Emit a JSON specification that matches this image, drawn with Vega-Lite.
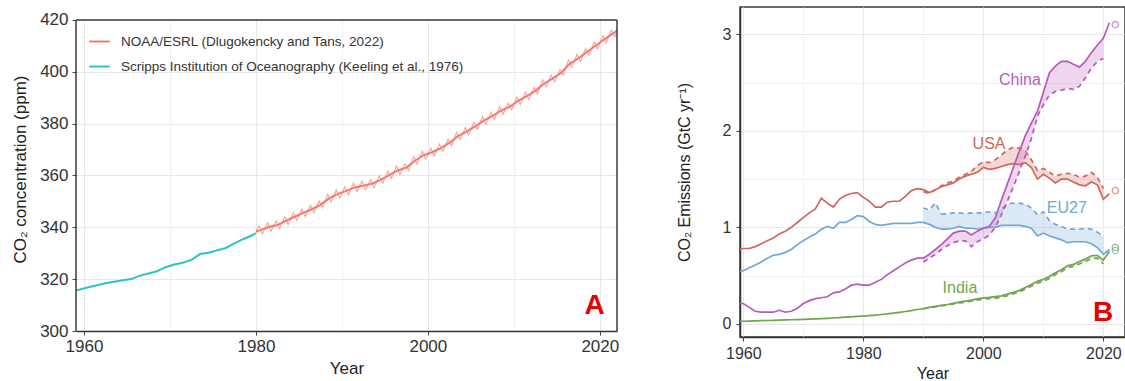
{
"$schema": "https://vega.github.io/schema/vega-lite/v6.json",
"padding": {"left": 11, "top": 6, "right": 0, "bottom": 0},
"spacing": 56,
"resolve": {"scale": {"color": "independent"}},
"config": {
  "font": "Liberation Sans",
  "view": {"stroke": "#3a3a3a", "strokeWidth": 1.5},
  "axis": {"domainColor": "#333", "domainWidth": 1.5, "gridWidth": 1, "tickColor": "#444", "tickSize": 4, "labelColor": "#333", "titleColor": "#222", "titleFontWeight": "normal", "labelFontSize": 17, "titleFontSize": 17}
},
"datasets": {
  "seasonal": [
    {"t":1980.0,"v":338.6},{"t":1980.35,"v":340.5},{"t":1980.75,"v":337.4},{"t":1981.35,"v":341.8},{"t":1981.75,"v":338.5},{"t":1982.35,"v":342.4},{"t":1982.75,"v":339.5},{"t":1983.35,"v":344.1},{"t":1983.75,"v":341.1},{"t":1984.35,"v":345.6},{"t":1984.75,"v":342.6},{"t":1985.35,"v":347.1},{"t":1985.75,"v":344.1},{"t":1986.35,"v":348.5},{"t":1986.75,"v":345.6},{"t":1987.35,"v":350.1},{"t":1987.75,"v":347.5},{"t":1988.35,"v":352.7},{"t":1988.75,"v":349.8},{"t":1989.35,"v":354.4},{"t":1989.75,"v":351.3},{"t":1990.35,"v":355.7},{"t":1990.75,"v":352.6},{"t":1991.35,"v":357.1},{"t":1991.75,"v":353.8},{"t":1992.35,"v":357.8},{"t":1992.75,"v":354.5},{"t":1993.35,"v":358.4},{"t":1993.75,"v":355.4},{"t":1994.35,"v":359.9},{"t":1994.75,"v":357.0},{"t":1995.35,"v":361.7},{"t":1995.75,"v":358.8},{"t":1996.35,"v":363.6},{"t":1996.75,"v":360.4},{"t":1997.35,"v":364.5},{"t":1997.75,"v":361.9},{"t":1998.35,"v":367.2},{"t":1998.75,"v":364.4},{"t":1999.35,"v":369.4},{"t":1999.75,"v":366.3},{"t":2000.35,"v":370.5},{"t":2000.75,"v":367.6},{"t":2001.35,"v":372.1},{"t":2001.75,"v":369.3},{"t":2002.35,"v":374.0},{"t":2002.75,"v":371.4},{"t":2003.35,"v":376.7},{"t":2003.75,"v":373.8},{"t":2004.35,"v":378.4},{"t":2004.75,"v":375.7},{"t":2005.35,"v":380.5},{"t":2005.75,"v":377.7},{"t":2006.35,"v":382.7},{"t":2006.75,"v":379.8},{"t":2007.35,"v":384.4},{"t":2007.75,"v":381.6},{"t":2008.35,"v":386.6},{"t":2008.75,"v":383.6},{"t":2009.35,"v":387.9},{"t":2009.75,"v":385.3},{"t":2010.35,"v":390.3},{"t":2010.75,"v":387.4},{"t":2011.35,"v":392.1},{"t":2011.75,"v":389.3},{"t":2012.35,"v":394.0},{"t":2012.75,"v":391.5},{"t":2013.35,"v":396.9},{"t":2013.75,"v":394.1},{"t":2014.35,"v":398.8},{"t":2014.75,"v":396.1},{"t":2015.35,"v":400.9},{"t":2015.75,"v":398.7},{"t":2016.35,"v":404.5},{"t":2016.75,"v":401.8},{"t":2017.35,"v":406.7},{"t":2017.75,"v":404.0},{"t":2018.35,"v":409.0},{"t":2018.75,"v":406.4},{"t":2019.35,"v":411.5},{"t":2019.75,"v":408.9},{"t":2020.35,"v":413.9},{"t":2020.75,"v":411.2},{"t":2021.35,"v":416.1},{"t":2021.75,"v":413.5},{"t":2022.1,"v":417.0}
  ],
  "co2": [
    {"src":"Scripps Institution of Oceanography (Keeling et al., 1976)","t":1959.0,"v":315.6},
    {"src":"Scripps Institution of Oceanography (Keeling et al., 1976)","t":1959.5,"v":315.98},
    {"src":"Scripps Institution of Oceanography (Keeling et al., 1976)","t":1960.5,"v":316.91},
    {"src":"Scripps Institution of Oceanography (Keeling et al., 1976)","t":1961.5,"v":317.64},
    {"src":"Scripps Institution of Oceanography (Keeling et al., 1976)","t":1962.5,"v":318.45},
    {"src":"Scripps Institution of Oceanography (Keeling et al., 1976)","t":1963.5,"v":318.99},
    {"src":"Scripps Institution of Oceanography (Keeling et al., 1976)","t":1964.5,"v":319.62},
    {"src":"Scripps Institution of Oceanography (Keeling et al., 1976)","t":1965.5,"v":320.04},
    {"src":"Scripps Institution of Oceanography (Keeling et al., 1976)","t":1966.5,"v":321.37},
    {"src":"Scripps Institution of Oceanography (Keeling et al., 1976)","t":1967.5,"v":322.18},
    {"src":"Scripps Institution of Oceanography (Keeling et al., 1976)","t":1968.5,"v":323.05},
    {"src":"Scripps Institution of Oceanography (Keeling et al., 1976)","t":1969.5,"v":324.62},
    {"src":"Scripps Institution of Oceanography (Keeling et al., 1976)","t":1970.5,"v":325.68},
    {"src":"Scripps Institution of Oceanography (Keeling et al., 1976)","t":1971.5,"v":326.32},
    {"src":"Scripps Institution of Oceanography (Keeling et al., 1976)","t":1972.5,"v":327.46},
    {"src":"Scripps Institution of Oceanography (Keeling et al., 1976)","t":1973.5,"v":329.68},
    {"src":"Scripps Institution of Oceanography (Keeling et al., 1976)","t":1974.5,"v":330.19},
    {"src":"Scripps Institution of Oceanography (Keeling et al., 1976)","t":1975.5,"v":331.13},
    {"src":"Scripps Institution of Oceanography (Keeling et al., 1976)","t":1976.5,"v":332.03},
    {"src":"Scripps Institution of Oceanography (Keeling et al., 1976)","t":1977.5,"v":333.84},
    {"src":"Scripps Institution of Oceanography (Keeling et al., 1976)","t":1978.5,"v":335.41},
    {"src":"Scripps Institution of Oceanography (Keeling et al., 1976)","t":1979.5,"v":336.84},
    {"src":"Scripps Institution of Oceanography (Keeling et al., 1976)","t":1980.0,"v":337.8},
    {"src":"NOAA/ESRL (Dlugokencky and Tans, 2022)","t":1980.0,"v":338.3},
    {"src":"NOAA/ESRL (Dlugokencky and Tans, 2022)","t":1980.5,"v":338.91},
    {"src":"NOAA/ESRL (Dlugokencky and Tans, 2022)","t":1981.5,"v":340.11},
    {"src":"NOAA/ESRL (Dlugokencky and Tans, 2022)","t":1982.5,"v":340.86},
    {"src":"NOAA/ESRL (Dlugokencky and Tans, 2022)","t":1983.5,"v":342.53},
    {"src":"NOAA/ESRL (Dlugokencky and Tans, 2022)","t":1984.5,"v":344.07},
    {"src":"NOAA/ESRL (Dlugokencky and Tans, 2022)","t":1985.5,"v":345.54},
    {"src":"NOAA/ESRL (Dlugokencky and Tans, 2022)","t":1986.5,"v":346.97},
    {"src":"NOAA/ESRL (Dlugokencky and Tans, 2022)","t":1987.5,"v":348.68},
    {"src":"NOAA/ESRL (Dlugokencky and Tans, 2022)","t":1988.5,"v":351.16},
    {"src":"NOAA/ESRL (Dlugokencky and Tans, 2022)","t":1989.5,"v":352.79},
    {"src":"NOAA/ESRL (Dlugokencky and Tans, 2022)","t":1990.5,"v":354.06},
    {"src":"NOAA/ESRL (Dlugokencky and Tans, 2022)","t":1991.5,"v":355.39},
    {"src":"NOAA/ESRL (Dlugokencky and Tans, 2022)","t":1992.5,"v":356.09},
    {"src":"NOAA/ESRL (Dlugokencky and Tans, 2022)","t":1993.5,"v":356.83},
    {"src":"NOAA/ESRL (Dlugokencky and Tans, 2022)","t":1994.5,"v":358.33},
    {"src":"NOAA/ESRL (Dlugokencky and Tans, 2022)","t":1995.5,"v":360.17},
    {"src":"NOAA/ESRL (Dlugokencky and Tans, 2022)","t":1996.5,"v":361.93},
    {"src":"NOAA/ESRL (Dlugokencky and Tans, 2022)","t":1997.5,"v":363.05},
    {"src":"NOAA/ESRL (Dlugokencky and Tans, 2022)","t":1998.5,"v":365.70},
    {"src":"NOAA/ESRL (Dlugokencky and Tans, 2022)","t":1999.5,"v":367.80},
    {"src":"NOAA/ESRL (Dlugokencky and Tans, 2022)","t":2000.5,"v":368.96},
    {"src":"NOAA/ESRL (Dlugokencky and Tans, 2022)","t":2001.5,"v":370.57},
    {"src":"NOAA/ESRL (Dlugokencky and Tans, 2022)","t":2002.5,"v":372.59},
    {"src":"NOAA/ESRL (Dlugokencky and Tans, 2022)","t":2003.5,"v":375.15},
    {"src":"NOAA/ESRL (Dlugokencky and Tans, 2022)","t":2004.5,"v":376.95},
    {"src":"NOAA/ESRL (Dlugokencky and Tans, 2022)","t":2005.5,"v":378.98},
    {"src":"NOAA/ESRL (Dlugokencky and Tans, 2022)","t":2006.5,"v":381.15},
    {"src":"NOAA/ESRL (Dlugokencky and Tans, 2022)","t":2007.5,"v":382.90},
    {"src":"NOAA/ESRL (Dlugokencky and Tans, 2022)","t":2008.5,"v":385.02},
    {"src":"NOAA/ESRL (Dlugokencky and Tans, 2022)","t":2009.5,"v":386.50},
    {"src":"NOAA/ESRL (Dlugokencky and Tans, 2022)","t":2010.5,"v":388.76},
    {"src":"NOAA/ESRL (Dlugokencky and Tans, 2022)","t":2011.5,"v":390.63},
    {"src":"NOAA/ESRL (Dlugokencky and Tans, 2022)","t":2012.5,"v":392.65},
    {"src":"NOAA/ESRL (Dlugokencky and Tans, 2022)","t":2013.5,"v":395.40},
    {"src":"NOAA/ESRL (Dlugokencky and Tans, 2022)","t":2014.5,"v":397.34},
    {"src":"NOAA/ESRL (Dlugokencky and Tans, 2022)","t":2015.5,"v":399.65},
    {"src":"NOAA/ESRL (Dlugokencky and Tans, 2022)","t":2016.5,"v":403.06},
    {"src":"NOAA/ESRL (Dlugokencky and Tans, 2022)","t":2017.5,"v":405.22},
    {"src":"NOAA/ESRL (Dlugokencky and Tans, 2022)","t":2018.5,"v":407.61},
    {"src":"NOAA/ESRL (Dlugokencky and Tans, 2022)","t":2019.5,"v":410.07},
    {"src":"NOAA/ESRL (Dlugokencky and Tans, 2022)","t":2020.5,"v":412.44},
    {"src":"NOAA/ESRL (Dlugokencky and Tans, 2022)","t":2021.5,"v":414.70},
    {"src":"NOAA/ESRL (Dlugokencky and Tans, 2022)","t":2022.0,"v":415.9}
  ],
  "frameA": [
    {"x":1959.07,"x2":1959.07,"y":300,"y2":420},
    {"x":1959.07,"x2":2022,"y":420,"y2":420},
    {"x":2022,"x2":2022,"y":300,"y2":420}
  ],
  "emis": [
    {"c":"USA","y":1959,"t":0.77},{"c":"USA","y":1960,"t":0.78},{"c":"USA","y":1961,"t":0.78},{"c":"USA","y":1962,"t":0.80},{"c":"USA","y":1963,"t":0.83},{"c":"USA","y":1964,"t":0.86},{"c":"USA","y":1965,"t":0.89},{"c":"USA","y":1966,"t":0.93},{"c":"USA","y":1967,"t":0.96},{"c":"USA","y":1968,"t":1.00},{"c":"USA","y":1969,"t":1.05},{"c":"USA","y":1970,"t":1.10},{"c":"USA","y":1971,"t":1.15},{"c":"USA","y":1972,"t":1.19},{"c":"USA","y":1973,"t":1.30},{"c":"USA","y":1974,"t":1.25},{"c":"USA","y":1975,"t":1.21},{"c":"USA","y":1976,"t":1.29},{"c":"USA","y":1977,"t":1.33},{"c":"USA","y":1978,"t":1.35},{"c":"USA","y":1979,"t":1.36},{"c":"USA","y":1980,"t":1.31},{"c":"USA","y":1981,"t":1.27},{"c":"USA","y":1982,"t":1.21},{"c":"USA","y":1983,"t":1.21},{"c":"USA","y":1984,"t":1.26},{"c":"USA","y":1985,"t":1.27},{"c":"USA","y":1986,"t":1.27},{"c":"USA","y":1987,"t":1.32},{"c":"USA","y":1988,"t":1.38},{"c":"USA","y":1989,"t":1.40},
    {"c":"USA","y":1990,"t":1.39,"cons":1.37},{"c":"USA","y":1991,"t":1.36,"cons":1.35},{"c":"USA","y":1992,"t":1.39,"cons":1.39},{"c":"USA","y":1993,"t":1.42,"cons":1.43},{"c":"USA","y":1994,"t":1.44,"cons":1.46},{"c":"USA","y":1995,"t":1.46,"cons":1.48},{"c":"USA","y":1996,"t":1.50,"cons":1.52},{"c":"USA","y":1997,"t":1.53,"cons":1.55},{"c":"USA","y":1998,"t":1.55,"cons":1.58},{"c":"USA","y":1999,"t":1.57,"cons":1.64},{"c":"USA","y":2000,"t":1.62,"cons":1.68},{"c":"USA","y":2001,"t":1.60,"cons":1.67},{"c":"USA","y":2002,"t":1.61,"cons":1.70},{"c":"USA","y":2003,"t":1.63,"cons":1.75},{"c":"USA","y":2004,"t":1.65,"cons":1.80},{"c":"USA","y":2005,"t":1.66,"cons":1.83},{"c":"USA","y":2006,"t":1.65,"cons":1.82},{"c":"USA","y":2007,"t":1.67,"cons":1.79},{"c":"USA","y":2008,"t":1.62,"cons":1.70},{"c":"USA","y":2009,"t":1.50,"cons":1.59},{"c":"USA","y":2010,"t":1.55,"cons":1.61},{"c":"USA","y":2011,"t":1.51,"cons":1.57},{"c":"USA","y":2012,"t":1.46,"cons":1.53},{"c":"USA","y":2013,"t":1.50,"cons":1.55},{"c":"USA","y":2014,"t":1.50,"cons":1.56},{"c":"USA","y":2015,"t":1.47,"cons":1.55},{"c":"USA","y":2016,"t":1.44,"cons":1.52},{"c":"USA","y":2017,"t":1.43,"cons":1.53},{"c":"USA","y":2018,"t":1.47,"cons":1.57},{"c":"USA","y":2019,"t":1.44,"cons":1.52},{"c":"USA","y":2020,"t":1.29,"cons":1.40},{"c":"USA","y":2021,"t":1.35},
    {"c":"EU27","y":1959,"t":0.54},{"c":"EU27","y":1960,"t":0.55},{"c":"EU27","y":1961,"t":0.58},{"c":"EU27","y":1962,"t":0.61},{"c":"EU27","y":1963,"t":0.64},{"c":"EU27","y":1964,"t":0.68},{"c":"EU27","y":1965,"t":0.71},{"c":"EU27","y":1966,"t":0.72},{"c":"EU27","y":1967,"t":0.74},{"c":"EU27","y":1968,"t":0.77},{"c":"EU27","y":1969,"t":0.82},{"c":"EU27","y":1970,"t":0.86},{"c":"EU27","y":1971,"t":0.90},{"c":"EU27","y":1972,"t":0.93},{"c":"EU27","y":1973,"t":0.98},{"c":"EU27","y":1974,"t":1.01},{"c":"EU27","y":1975,"t":0.99},{"c":"EU27","y":1976,"t":1.05},{"c":"EU27","y":1977,"t":1.05},{"c":"EU27","y":1978,"t":1.08},{"c":"EU27","y":1979,"t":1.12},{"c":"EU27","y":1980,"t":1.11},{"c":"EU27","y":1981,"t":1.06},{"c":"EU27","y":1982,"t":1.03},{"c":"EU27","y":1983,"t":1.02},{"c":"EU27","y":1984,"t":1.03},{"c":"EU27","y":1985,"t":1.04},{"c":"EU27","y":1986,"t":1.04},{"c":"EU27","y":1987,"t":1.04},{"c":"EU27","y":1988,"t":1.04},{"c":"EU27","y":1989,"t":1.05},
    {"c":"EU27","y":1990,"t":1.05,"cons":1.20},{"c":"EU27","y":1991,"t":1.03,"cons":1.18},{"c":"EU27","y":1992,"t":1.00,"cons":1.25},{"c":"EU27","y":1993,"t":0.98,"cons":1.14},{"c":"EU27","y":1994,"t":0.98,"cons":1.14},{"c":"EU27","y":1995,"t":0.99,"cons":1.15},{"c":"EU27","y":1996,"t":1.01,"cons":1.15},{"c":"EU27","y":1997,"t":0.99,"cons":1.14},{"c":"EU27","y":1998,"t":0.99,"cons":1.15},{"c":"EU27","y":1999,"t":0.98,"cons":1.15},{"c":"EU27","y":2000,"t":0.99,"cons":1.15},{"c":"EU27","y":2001,"t":1.00,"cons":1.16},{"c":"EU27","y":2002,"t":1.00,"cons":1.15},{"c":"EU27","y":2003,"t":1.02,"cons":1.19},{"c":"EU27","y":2004,"t":1.02,"cons":1.24},{"c":"EU27","y":2005,"t":1.02,"cons":1.25},{"c":"EU27","y":2006,"t":1.02,"cons":1.25},{"c":"EU27","y":2007,"t":1.01,"cons":1.24},{"c":"EU27","y":2008,"t":0.99,"cons":1.20},{"c":"EU27","y":2009,"t":0.91,"cons":1.13},{"c":"EU27","y":2010,"t":0.94,"cons":1.16},{"c":"EU27","y":2011,"t":0.91,"cons":1.07},{"c":"EU27","y":2012,"t":0.89,"cons":1.03},{"c":"EU27","y":2013,"t":0.87,"cons":1.01},{"c":"EU27","y":2014,"t":0.84,"cons":0.98},{"c":"EU27","y":2015,"t":0.85,"cons":0.98},{"c":"EU27","y":2016,"t":0.85,"cons":0.98},{"c":"EU27","y":2017,"t":0.85,"cons":0.99},{"c":"EU27","y":2018,"t":0.83,"cons":0.98},{"c":"EU27","y":2019,"t":0.79,"cons":0.95},{"c":"EU27","y":2020,"t":0.72,"cons":0.90},{"c":"EU27","y":2021,"t":0.77},
    {"c":"China","y":1959,"t":0.21},{"c":"China","y":1960,"t":0.21},{"c":"China","y":1961,"t":0.17},{"c":"China","y":1962,"t":0.13},{"c":"China","y":1963,"t":0.12},{"c":"China","y":1964,"t":0.12},{"c":"China","y":1965,"t":0.12},{"c":"China","y":1966,"t":0.14},{"c":"China","y":1967,"t":0.12},{"c":"China","y":1968,"t":0.13},{"c":"China","y":1969,"t":0.16},{"c":"China","y":1970,"t":0.21},{"c":"China","y":1971,"t":0.24},{"c":"China","y":1972,"t":0.26},{"c":"China","y":1973,"t":0.27},{"c":"China","y":1974,"t":0.28},{"c":"China","y":1975,"t":0.32},{"c":"China","y":1976,"t":0.33},{"c":"China","y":1977,"t":0.36},{"c":"China","y":1978,"t":0.40},{"c":"China","y":1979,"t":0.41},{"c":"China","y":1980,"t":0.40},{"c":"China","y":1981,"t":0.40},{"c":"China","y":1982,"t":0.43},{"c":"China","y":1983,"t":0.46},{"c":"China","y":1984,"t":0.51},{"c":"China","y":1985,"t":0.55},{"c":"China","y":1986,"t":0.59},{"c":"China","y":1987,"t":0.63},{"c":"China","y":1988,"t":0.66},{"c":"China","y":1989,"t":0.68},
    {"c":"China","y":1990,"t":0.68,"cons":0.64},{"c":"China","y":1991,"t":0.72,"cons":0.68},{"c":"China","y":1992,"t":0.77,"cons":0.72},{"c":"China","y":1993,"t":0.82,"cons":0.77},{"c":"China","y":1994,"t":0.88,"cons":0.81},{"c":"China","y":1995,"t":0.94,"cons":0.84},{"c":"China","y":1996,"t":0.96,"cons":0.86},{"c":"China","y":1997,"t":0.96,"cons":0.86},{"c":"China","y":1998,"t":0.92,"cons":0.80},{"c":"China","y":1999,"t":0.96,"cons":0.85},{"c":"China","y":2000,"t":0.99,"cons":0.88},{"c":"China","y":2001,"t":1.01,"cons":0.92},{"c":"China","y":2002,"t":1.10,"cons":1.00},{"c":"China","y":2003,"t":1.28,"cons":1.13},{"c":"China","y":2004,"t":1.45,"cons":1.27},{"c":"China","y":2005,"t":1.62,"cons":1.42},{"c":"China","y":2006,"t":1.79,"cons":1.58},{"c":"China","y":2007,"t":1.95,"cons":1.74},{"c":"China","y":2008,"t":2.08,"cons":1.92},{"c":"China","y":2009,"t":2.20,"cons":2.15},{"c":"China","y":2010,"t":2.40,"cons":2.27},{"c":"China","y":2011,"t":2.60,"cons":2.37},{"c":"China","y":2012,"t":2.67,"cons":2.41},{"c":"China","y":2013,"t":2.72,"cons":2.42},{"c":"China","y":2014,"t":2.72,"cons":2.44},{"c":"China","y":2015,"t":2.69,"cons":2.43},{"c":"China","y":2016,"t":2.66,"cons":2.46},{"c":"China","y":2017,"t":2.72,"cons":2.55},{"c":"China","y":2018,"t":2.81,"cons":2.65},{"c":"China","y":2019,"t":2.89,"cons":2.72},{"c":"China","y":2020,"t":2.96,"cons":2.75},{"c":"China","y":2021,"t":3.12},
    {"c":"India","y":1959,"t":0.025},{"c":"India","y":1960,"t":0.026},{"c":"India","y":1961,"t":0.028},{"c":"India","y":1962,"t":0.030},{"c":"India","y":1963,"t":0.032},{"c":"India","y":1964,"t":0.034},{"c":"India","y":1965,"t":0.036},{"c":"India","y":1966,"t":0.038},{"c":"India","y":1967,"t":0.040},{"c":"India","y":1968,"t":0.042},{"c":"India","y":1969,"t":0.044},{"c":"India","y":1970,"t":0.046},{"c":"India","y":1971,"t":0.048},{"c":"India","y":1972,"t":0.050},{"c":"India","y":1973,"t":0.053},{"c":"India","y":1974,"t":0.056},{"c":"India","y":1975,"t":0.060},{"c":"India","y":1976,"t":0.064},{"c":"India","y":1977,"t":0.068},{"c":"India","y":1978,"t":0.072},{"c":"India","y":1979,"t":0.076},{"c":"India","y":1980,"t":0.080},{"c":"India","y":1981,"t":0.085},{"c":"India","y":1982,"t":0.090},{"c":"India","y":1983,"t":0.096},{"c":"India","y":1984,"t":0.102},{"c":"India","y":1985,"t":0.110},{"c":"India","y":1986,"t":0.118},{"c":"India","y":1987,"t":0.127},{"c":"India","y":1988,"t":0.137},{"c":"India","y":1989,"t":0.148},
    {"c":"India","y":1990,"t":0.158,"cons":0.155},{"c":"India","y":1991,"t":0.170,"cons":0.165},{"c":"India","y":1992,"t":0.180,"cons":0.175},{"c":"India","y":1993,"t":0.190,"cons":0.185},{"c":"India","y":1994,"t":0.200,"cons":0.195},{"c":"India","y":1995,"t":0.212,"cons":0.205},{"c":"India","y":1996,"t":0.225,"cons":0.215},{"c":"India","y":1997,"t":0.235,"cons":0.225},{"c":"India","y":1998,"t":0.245,"cons":0.235},{"c":"India","y":1999,"t":0.258,"cons":0.245},{"c":"India","y":2000,"t":0.268,"cons":0.255},{"c":"India","y":2001,"t":0.273,"cons":0.260},{"c":"India","y":2002,"t":0.281,"cons":0.265},{"c":"India","y":2003,"t":0.290,"cons":0.275},{"c":"India","y":2004,"t":0.307,"cons":0.290},{"c":"India","y":2005,"t":0.325,"cons":0.310},{"c":"India","y":2006,"t":0.346,"cons":0.330},{"c":"India","y":2007,"t":0.375,"cons":0.360},{"c":"India","y":2008,"t":0.406,"cons":0.390},{"c":"India","y":2009,"t":0.440,"cons":0.420},{"c":"India","y":2010,"t":0.462,"cons":0.440},{"c":"India","y":2011,"t":0.490,"cons":0.470},{"c":"India","y":2012,"t":0.530,"cons":0.510},{"c":"India","y":2013,"t":0.560,"cons":0.540},{"c":"India","y":2014,"t":0.600,"cons":0.580},{"c":"India","y":2015,"t":0.615,"cons":0.595},{"c":"India","y":2016,"t":0.645,"cons":0.620},{"c":"India","y":2017,"t":0.670,"cons":0.645},{"c":"India","y":2018,"t":0.705,"cons":0.675},{"c":"India","y":2019,"t":0.710,"cons":0.680},{"c":"India","y":2020,"t":0.660,"cons":0.620},{"c":"India","y":2021,"t":0.750}
  ],
  "proj": [
    {"c":"China","y":2022,"p":3.10},{"c":"USA","y":2022,"p":1.38},{"c":"EU27","y":2022,"p":0.76},{"c":"India","y":2022,"p":0.79}
  ],
  "labels": [
    {"c":"China","y":2006.1,"v":2.53},{"c":"USA","y":2000.95,"v":1.86},{"c":"EU27","y":2013.9,"v":1.2},{"c":"India","y":1996.1,"v":0.37}
  ]
},
"hconcat": [
  {
    "width": 541, "height": 324,
    "view": {"stroke": null},
    "layer": [
      {
        "data": {"name": "seasonal"},
        "mark": {"type": "line", "color": "#F5A9A2", "strokeWidth": 1.2, "clip": true},
        "encoding": {
          "x": {"field": "t", "type": "quantitative", "scale": {"domain": [1959.07, 2022], "nice": false, "zero": false},
                "axis": {"title": "Year", "values": [1960,1970,1980,1990,2000,2010,2020], "labelExpr": "datum.value % 20 == 0 ? format(datum.value, 'd') : ''", "tickOpacity": {"condition": {"test": "datum.value % 20 != 0", "value": 0}, "value": 1}, "gridColor": {"condition": {"test": "datum.value % 20 != 0", "value": "#f2f2f2"}, "value": "#e8e8e8"}, "labelPadding": 3, "titlePadding": 6, "labelFlush": false}},
          "y": {"field": "v", "type": "quantitative", "scale": {"domain": [300, 425], "nice": false, "zero": false},
                "axis": {"title": "CO₂ concentration (ppm)", "domain": false, "values": [300,310,320,330,340,350,360,370,380,390,400,410,420], "labelExpr": "datum.value % 20 == 0 ? format(datum.value, 'd') : ''", "tickOpacity": {"condition": {"test": "datum.value % 20 != 0", "value": 0}, "value": 1}, "gridColor": {"condition": {"test": "datum.value % 20 != 0", "value": "#f2f2f2"}, "value": "#e8e8e8"}, "labelPadding": 4, "titlePadding": 10}}
        }
      },
      {
        "data": {"name": "co2"},
        "mark": {"type": "line", "strokeWidth": 2, "clip": true},
        "encoding": {
          "x": {"field": "t", "type": "quantitative"},
          "y": {"field": "v", "type": "quantitative"},
          "color": {"field": "src", "type": "nominal",
                    "scale": {"domain": ["NOAA/ESRL (Dlugokencky and Tans, 2022)", "Scripps Institution of Oceanography (Keeling et al., 1976)"], "range": ["#F47A70", "#2EC3C7"]},
                    "legend": {"title": null, "orient": "none", "legendX": 12, "legendY": 23, "labelFontSize": 13.5, "labelColor": "#333", "symbolType": "stroke", "symbolStrokeWidth": 2, "symbolSize": 420, "rowPadding": 7, "labelOffset": 10, "labelLimit": 600}}
        }
      },
      {
        "data": {"name": "frameA"},
        "mark": {"type": "rect", "color": "white", "clip": true},
        "transform": [{"filter": "datum.y == 420 && datum.y2 == 420"}],
        "encoding": {
          "x": {"field": "x", "type": "quantitative"},
          "x2": {"field": "x2"},
          "y": {"field": "y", "type": "quantitative"},
          "y2": {"datum": 425}
        }
      },
      {
        "data": {"name": "frameA"},
        "mark": {"type": "rule", "color": "#3a3a3a", "strokeWidth": 1.5},
        "encoding": {
          "x": {"field": "x", "type": "quantitative"},
          "x2": {"field": "x2"},
          "y": {"field": "y", "type": "quantitative"},
          "y2": {"field": "y2"}
        }
      },
      {
        "data": {"values": [{"t": 2019.4, "v": 309.6, "lab": "A"}]},
        "mark": {"type": "text", "fontSize": 28, "fontWeight": "bold", "color": "#E60000", "align": "center", "baseline": "middle"},
        "encoding": {
          "x": {"field": "t", "type": "quantitative"},
          "y": {"field": "v", "type": "quantitative"},
          "text": {"field": "lab"}
        }
      }
    ]
  },
  {
    "width": 385, "height": 330,
    "encoding": {
      "x": {"field": "y", "type": "quantitative", "scale": {"domain": [1959.45, 2023.6], "nice": false, "zero": false},
            "axis": {"title": "Year", "values": [1960,1970,1980,1990,2000,2010,2020], "labelExpr": "datum.value % 20 == 0 ? format(datum.value, 'd') : ''", "tickOpacity": {"condition": {"test": "datum.value % 20 != 0", "value": 0}, "value": 1}, "gridColor": {"condition": {"test": "datum.value % 20 != 0", "value": "#f2f2f2"}, "value": "#e8e8e8"}, "labelPadding": 4, "titlePadding": 4, "labelFontSize": 16, "titleFontSize": 16, "labelFlush": false}}
    },
    "layer": [
      {
        "data": {"name": "emis"},
        "transform": [{"filter": "isValid(datum.cons)"}],
        "mark": {"type": "area", "opacity": 0.25, "clip": true},
        "encoding": {
          "y": {"field": "t", "type": "quantitative", "scale": {"domain": [-0.137, 3.283], "nice": false, "zero": false},
                "axis": {"title": "CO₂ Emissions (GtC yr⁻¹)", "values": [0,0.5,1,1.5,2,2.5,3], "labelExpr": "datum.value % 1 == 0 ? format(datum.value, 'd') : ''", "tickOpacity": {"condition": {"test": "datum.value % 1 != 0", "value": 0}, "value": 1}, "gridColor": {"condition": {"test": "datum.value % 1 != 0", "value": "#f2f2f2"}, "value": "#e8e8e8"}, "labelPadding": 5, "titlePadding": 30, "labelFontSize": 16, "titleFontSize": 16}},
          "y2": {"field": "cons"},
          "color": {"field": "c", "type": "nominal", "scale": {"domain": ["China", "USA", "EU27", "India"], "range": ["#B65BBA", "#D0675C", "#70A7D8", "#6FA650"]}, "legend": null}
        }
      },
      {
        "data": {"name": "emis"},
        "mark": {"type": "line", "strokeWidth": 1.7, "clip": true},
        "encoding": {
          "y": {"field": "t", "type": "quantitative"},
          "color": {"field": "c", "type": "nominal", "legend": null}
        }
      },
      {
        "data": {"name": "emis"},
        "transform": [{"filter": "isValid(datum.cons)"}],
        "mark": {"type": "line", "strokeWidth": 1.7, "strokeDash": [5, 4], "clip": true},
        "encoding": {
          "y": {"field": "cons", "type": "quantitative"},
          "color": {"field": "c", "type": "nominal", "legend": null}
        }
      },
      {
        "data": {"name": "proj"},
        "mark": {"type": "point", "shape": "circle", "filled": false, "size": 40, "strokeWidth": 1.3, "clip": true},
        "encoding": {
          "y": {"field": "p", "type": "quantitative"},
          "color": {"field": "c", "type": "nominal", "legend": null}
        }
      },
      {
        "data": {"name": "labels"},
        "mark": {"type": "text", "fontSize": 16, "align": "center", "baseline": "middle"},
        "encoding": {
          "y": {"field": "v", "type": "quantitative"},
          "text": {"field": "c"},
          "color": {"field": "c", "type": "nominal", "legend": null}
        }
      },
      {
        "data": {"values": [{"y": 2019.95, "v": 0.11, "lab": "B"}]},
        "mark": {"type": "text", "fontSize": 28, "fontWeight": "bold", "color": "#E60000", "align": "center", "baseline": "middle"},
        "encoding": {
          "y": {"field": "v", "type": "quantitative"},
          "text": {"field": "lab"}
        }
      }
    ]
  }
]
}
